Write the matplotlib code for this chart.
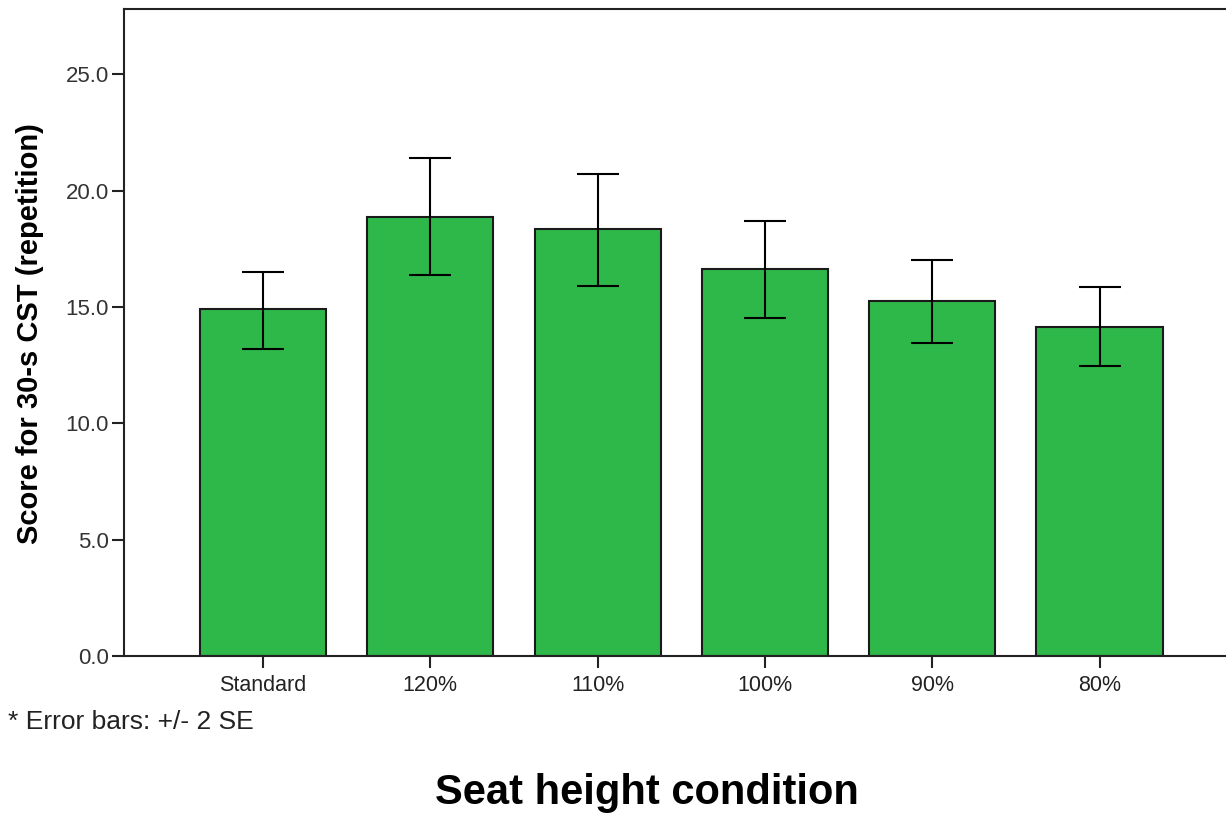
import matplotlib.pyplot as plt
import numpy as np

conditions = ["Standard", "120%", "110%", "100%", "90%", "80%"]
means = [14.91, 18.87, 18.34, 16.62, 15.25, 14.15]
err_low = [13.19, 16.35, 15.91, 14.52, 13.43, 12.46]
err_high = [16.51, 21.38, 20.73, 18.69, 17.01, 15.85]
yticks = [0.0, 5.0, 10.0, 15.0, 20.0, 25.0]

plt.rcParams['font.family'] = ['Liberation Sans', 'DejaVu Sans']

W, H = 1226, 815
fig = plt.figure(figsize=(W / 100, H / 100), dpi=100)
ax = fig.add_axes([124 / W, 1 - 656 / H, (1230 - 124) / W, (656 - 9) / H])

x = np.arange(len(conditions))
m = np.array(means)
yerr = [m - np.array(err_low), np.array(err_high) - m]

ax.bar(x, means, width=0.754, color='#2fb84a', edgecolor='#1a1a1a', linewidth=1.5, zorder=2)
ax.errorbar(x, means, yerr=yerr, fmt='none', ecolor='black', elinewidth=1.5,
            capsize=14.8, capthick=1.5, zorder=3)

ax.set_xlim(-0.831, 5.78)
ax.set_ylim(0, 27.8)
ax.set_xticks(x)
ax.set_xticklabels(conditions, fontsize=15.5, color='#222222')
ax.set_yticks(yticks)
ax.set_yticklabels([f"{v:.1f}" for v in yticks], fontsize=16, color='#333333')
ax.tick_params(axis='both', direction='out', length=8.5, width=1.5, color='#222222', pad=2.5)
ax.tick_params(axis='x', pad=5)

for s in ['left', 'bottom', 'top']:
    ax.spines[s].set_linewidth(1.5)
    ax.spines[s].set_color('#222222')
ax.spines['right'].set_visible(False)

fig.text(30 / W, 1 - 334 / H, 'Score for 30-s CST (repetition)', fontsize=21, fontweight='bold',
         rotation=90, ha='center', va='center')
fig.text(8 / W, 1 - 722 / H, '* Error bars: +/- 2 SE', fontsize=19, color='#222222', va='center')
fig.text(647 / W, 1 - 793 / H, 'Seat height condition', fontsize=30, fontweight='bold',
         ha='center', va='center')

fig.savefig('out.png', dpi=100)
